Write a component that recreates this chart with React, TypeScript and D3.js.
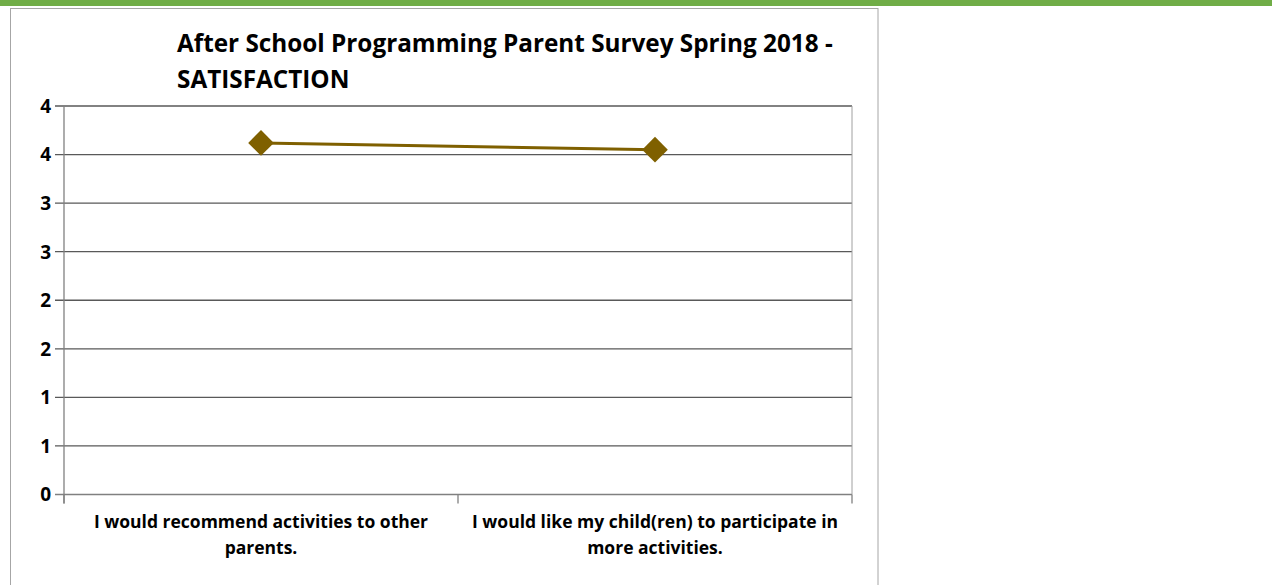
import React from "react";
import * as d3 from "d3";

const titleLines = ["After School Programming Parent Survey Spring 2018 -", "SATISFACTION"];
const categories = ["recommend", "more"];
const categoryLabelLines = [
  ["I would recommend activities to other", "parents."],
  ["I would like my child(ren) to participate in", "more activities."],
];
const values = [3.62, 3.55];
const yTicks = [0, 0.5, 1, 1.5, 2, 2.5, 3, 3.5, 4];
const yTickLabels = ["0", "1", "1", "2", "2", "3", "3", "4", "4"];

const W = 1272;
const H = 585;
const plot = { left: 64, right: 852, top: 106, bottom: 494.5 };
const LINE_COLOR = "#7F6000";
const FONT = "'Open Sans', sans-serif";

export default function App() {
  const x = d3.scaleBand<string>().domain(categories).range([plot.left, plot.right]);
  const y = d3.scaleLinear().domain([0, 4]).range([plot.bottom, plot.top]);
  const line = d3
    .line<number>()
    .x((_, i) => (x(categories[i]) as number) + x.bandwidth() / 2)
    .y((d) => y(d));
  const diamond = d3.symbol().type(d3.symbolDiamond2).size(420)();
  const catTicks = [plot.left, ...categories.map((c) => (x(c) as number) + x.bandwidth())];

  return (
    <svg
      width={W}
      height={H}
      style={{ position: "absolute", left: 0, top: 0, background: "#fff" }}
      fontFamily={FONT}
    >
      <rect x={0} y={0} width={W} height={6} fill="#70AD47" />
      <rect x={10.5} y={8.5} width={867.5} height={H} fill="#fff" stroke="#a6a6a6" strokeWidth={1} />

      {titleLines.map((t, i) => (
        <text key={i} x={177} y={52 + i * 36} fontSize={24.3} fontWeight="bold" fill="#000">
          {t}
        </text>
      ))}

      {yTicks.map((t, i) => (
        <g key={i}>
          <line
            x1={plot.left - 9}
            x2={plot.right}
            y1={y(t)}
            y2={y(t)}
            stroke={i === 0 ? "#808080" : "#595959"}
            strokeWidth={1.3}
          />
          <text x={51} y={y(t)} dy="0.36em" textAnchor="end" fontSize={19} fontWeight="bold" fill="#000">
            {yTickLabels[i]}
          </text>
        </g>
      ))}

      <line x1={plot.left} x2={plot.left} y1={plot.top} y2={plot.bottom + 9} stroke="#808080" strokeWidth={1.3} />
      <line x1={plot.right} x2={plot.right} y1={plot.top} y2={plot.bottom} stroke="#a0a0a0" strokeWidth={1} />
      {catTicks.map((tx, i) => (
        <line key={i} x1={tx} x2={tx} y1={plot.bottom} y2={plot.bottom + 9} stroke="#808080" strokeWidth={1.3} />
      ))}

      {categories.map((c, i) => (
        <text
          key={c}
          x={(x(c) as number) + x.bandwidth() / 2}
          y={528}
          textAnchor="middle"
          fontSize={17.5}
          fontWeight="bold"
          fill="#000"
        >
          {categoryLabelLines[i].map((l, j) => (
            <tspan key={j} x={(x(c) as number) + x.bandwidth() / 2} dy={j === 0 ? 0 : 26}>
              {l}
            </tspan>
          ))}
        </text>
      ))}

      <path d={line(values) || ""} fill="none" stroke={LINE_COLOR} strokeWidth={3} />
      {values.map((v, i) => (
        <path
          key={i}
          d={diamond || ""}
          transform={`translate(${(x(categories[i]) as number) + x.bandwidth() / 2},${y(v)})`}
          fill={LINE_COLOR}
        />
      ))}
    </svg>
  );
}
